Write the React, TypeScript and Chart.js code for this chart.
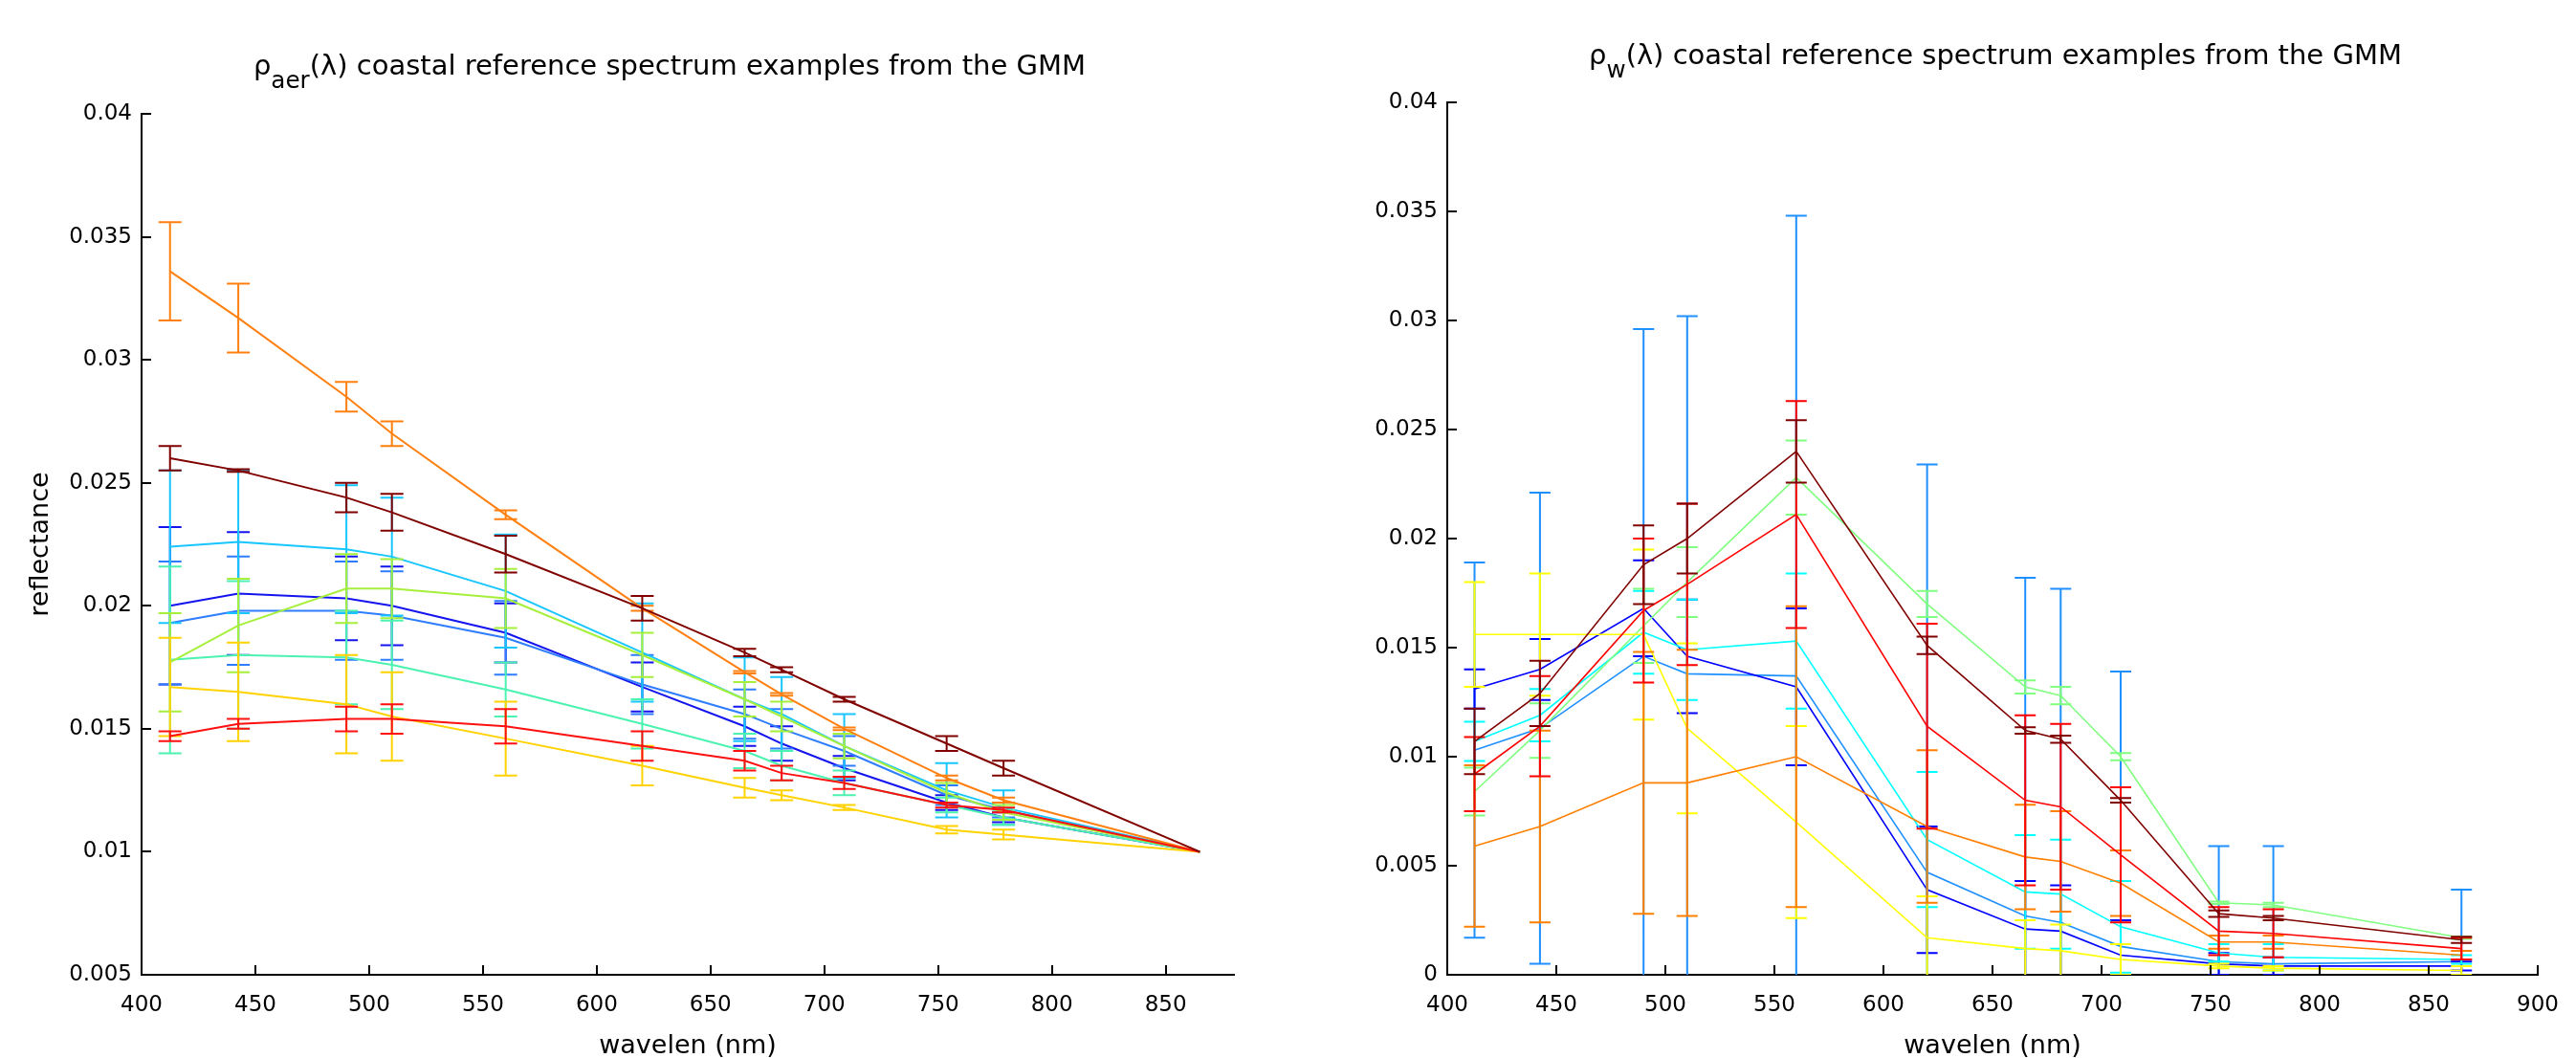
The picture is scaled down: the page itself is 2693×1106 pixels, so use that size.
import React, { useEffect, useRef } from 'react';
import { Chart, registerables } from 'chart.js';

Chart.register(...registerables);

// ---------- data ----------
const WAVELENGTHS = [412.5, 442.5, 490, 510, 560, 620, 665, 681.25, 708.75, 753.75, 778.75, 865];

// left panel: rho_aer spectra (mean) and +/- error
const AER_BLUE = [0.0200, 0.0205, 0.0203, 0.0200, 0.0189, 0.0167, 0.0151, 0.0144, 0.0134, 0.0120, 0.0114, 0.0100];
const AER_BLUE_ERR = [0.0032, 0.0025, 0.0017, 0.0016, 0.0012, 0.0010, 0.0008, 0.0007, 0.0005, 0.0003, 0.0002, 0];
const AER_AZURE = [0.0193, 0.0198, 0.0198, 0.0196, 0.0187, 0.0168, 0.0156, 0.0150, 0.0141, 0.0123, 0.0117, 0.0100];
const AER_AZURE_ERR = [0.0025, 0.0022, 0.0020, 0.0018, 0.0015, 0.0012, 0.0010, 0.0008, 0.0006, 0.0004, 0.0003, 0];
const AER_SKY = [0.0224, 0.0226, 0.0223, 0.0220, 0.0206, 0.0181, 0.0162, 0.0156, 0.0143, 0.0125, 0.0118, 0.0100];
const AER_SKY_ERR = [0.0031, 0.0029, 0.0026, 0.0024, 0.0023, 0.0020, 0.0017, 0.0015, 0.0013, 0.0011, 0.0007, 0];
const AER_AQUA = [0.0178, 0.0180, 0.0179, 0.0176, 0.0166, 0.0152, 0.0141, 0.0135, 0.0128, 0.0119, 0.0114, 0.0100];
const AER_AQUA_ERR = [0.0038, 0.0030, 0.0019, 0.0018, 0.0011, 0.0010, 0.0007, 0.0006, 0.0005, 0.0003, 0.0003, 0];
const AER_LIME = [0.0177, 0.0192, 0.0207, 0.0207, 0.0203, 0.0180, 0.0162, 0.0155, 0.0143, 0.0124, 0.0116, 0.0100];
const AER_LIME_ERR = [0.0020, 0.0019, 0.0014, 0.0012, 0.0012, 0.0009, 0.0007, 0.0006, 0.0005, 0.0004, 0.0003, 0];
const AER_GOLD = [0.0167, 0.0165, 0.0160, 0.0155, 0.0146, 0.0135, 0.0126, 0.0123, 0.0118, 0.0109, 0.0107, 0.0100];
const AER_GOLD_ERR = [0.0020, 0.0020, 0.0020, 0.0018, 0.0015, 0.0008, 0.0004, 0.0002, 0.0001, 0.00015, 0.0002, 0];
const AER_ORANGE = [0.0336, 0.0317, 0.0285, 0.0270, 0.0237, 0.0199, 0.0173, 0.0164, 0.0150, 0.0130, 0.0121, 0.0100];
const AER_ORANGE_ERR = [0.0020, 0.0014, 0.0006, 0.0005, 0.00018, 0.0001, 0.00005, 0.00005, 0.00005, 0.0001, 0.0001, 0];
const AER_RED = [0.0147, 0.0152, 0.0154, 0.0154, 0.0151, 0.0143, 0.0137, 0.0132, 0.0128, 0.0119, 0.0117, 0.0100];
const AER_RED_ERR = [0.0002, 0.0002, 0.0005, 0.0006, 0.0007, 0.0006, 0.0004, 0.0003, 0.00025, 0.0001, 0.0001, 0];
const AER_BROWN = [0.0260, 0.0255, 0.0244, 0.0238, 0.0221, 0.0199, 0.0181, 0.0174, 0.0162, 0.0144, 0.0134, 0.0100];
const AER_BROWN_ERR = [0.0005, 0.00005, 0.0006, 0.00075, 0.00075, 0.0005, 0.00015, 0.0001, 0.0001, 0.0003, 0.0003, 0];

// right panel: rho_w spectra (mean) and +/- error
const W_BLUE = [0.0131, 0.0140, 0.0168, 0.0146, 0.0132, 0.0039, 0.0021, 0.0020, 0.0009, 0.0005, 0.0004, 0.0004];
const W_BLUE_ERR = [0.0009, 0.0014, 0.0022, 0.0026, 0.0036, 0.0029, 0.0022, 0.0021, 0.0016, 0.0005, 0.0004, 0.0002];
const W_DODGER = [0.0103, 0.0113, 0.0146, 0.0138, 0.0137, 0.0047, 0.0027, 0.0024, 0.0013, 0.0006, 0.0005, 0.0006];
const W_DODGER_ERR = [0.0086, 0.0108, 0.0150, 0.0164, 0.0211, 0.0187, 0.0155, 0.0153, 0.0126, 0.0053, 0.0054, 0.0033];
const W_CYAN = [0.0107, 0.0119, 0.0157, 0.0149, 0.0153, 0.0062, 0.0038, 0.0037, 0.0022, 0.0010, 0.0008, 0.0007];
const W_CYAN_ERR = [0.0009, 0.0012, 0.0019, 0.0023, 0.0031, 0.0031, 0.0026, 0.0025, 0.0021, 0.0004, 0.0006, 0.0002];
const W_GREEN = [0.0084, 0.0112, 0.0160, 0.0180, 0.0228, 0.0170, 0.0132, 0.0128, 0.0100, 0.0033, 0.0032, 0.0017];
const W_GREEN_ERR = [0.0011, 0.00125, 0.0017, 0.0016, 0.0017, 0.0006, 0.0003, 0.0004, 0.00016, 0.00005, 0.0001, 0.00005];
const W_YELLOW = [0.0156, 0.0156, 0.0156, 0.0113, 0.0070, 0.0017, 0.0012, 0.0011, 0.0007, 0.0004, 0.0003, 0.0002];
const W_YELLOW_ERR = [0.0024, 0.0028, 0.0039, 0.0039, 0.0044, 0.0019, 0.0013, 0.0012, 0.0007, 0.0001, 0.0001, 0.0002];
const W_ORANGE = [0.0059, 0.0068, 0.0088, 0.0088, 0.0100, 0.0068, 0.0054, 0.0052, 0.0042, 0.0015, 0.0015, 0.0009];
const W_ORANGE_ERR = [0.0037, 0.0044, 0.0060, 0.0061, 0.0069, 0.0035, 0.0024, 0.0023, 0.0015, 0.0003, 0.0003, 0.0002];
const W_RED = [0.0092, 0.0114, 0.0167, 0.0179, 0.0211, 0.0114, 0.0080, 0.0077, 0.0055, 0.0020, 0.0019, 0.0012];
const W_RED_ERR = [0.0017, 0.0023, 0.0033, 0.0037, 0.0052, 0.0047, 0.0039, 0.0038, 0.0031, 0.0011, 0.0011, 0.0005];
const W_BROWN = [0.0107, 0.0129, 0.0188, 0.0200, 0.0240, 0.0151, 0.0112, 0.0108, 0.0080, 0.0028, 0.0026, 0.0016];
const W_BROWN_ERR = [0.0015, 0.0015, 0.0018, 0.0016, 0.00143, 0.0004, 0.00015, 0.00016, 0.0001, 0.00015, 0.0001, 0.00014];

// ticks
const X_TICKS_LEFT = [400, 450, 500, 550, 600, 650, 700, 750, 800, 850];
const X_TICKS_RIGHT = [400, 450, 500, 550, 600, 650, 700, 750, 800, 850, 900];
const Y_TICKS_LEFT = [0.005, 0.01, 0.015, 0.02, 0.025, 0.03, 0.035, 0.04];
const Y_TICKS_RIGHT = [0, 0.005, 0.01, 0.015, 0.02, 0.025, 0.03, 0.035, 0.04];

type Series = { color: string; values: number[]; errors: number[] };

// drawing order (later = on top)
const AER_SERIES: Series[] = [
  { color: '#1414EE', values: AER_BLUE, errors: AER_BLUE_ERR },
  { color: '#2E7DFF', values: AER_AZURE, errors: AER_AZURE_ERR },
  { color: '#18C6FF', values: AER_SKY, errors: AER_SKY_ERR },
  { color: '#4CF2B0', values: AER_AQUA, errors: AER_AQUA_ERR },
  { color: '#A6F03C', values: AER_LIME, errors: AER_LIME_ERR },
  { color: '#FFD200', values: AER_GOLD, errors: AER_GOLD_ERR },
  { color: '#FF8010', values: AER_ORANGE, errors: AER_ORANGE_ERR },
  { color: '#FF1010', values: AER_RED, errors: AER_RED_ERR },
  { color: '#800000', values: AER_BROWN, errors: AER_BROWN_ERR },
];

const W_SERIES: Series[] = [
  { color: '#1E90FF', values: W_DODGER, errors: W_DODGER_ERR },
  { color: '#0000FF', values: W_BLUE, errors: W_BLUE_ERR },
  { color: '#00FFFF', values: W_CYAN, errors: W_CYAN_ERR },
  { color: '#80FF80', values: W_GREEN, errors: W_GREEN_ERR },
  { color: '#FFFF00', values: W_YELLOW, errors: W_YELLOW_ERR },
  { color: '#FF8000', values: W_ORANGE, errors: W_ORANGE_ERR },
  { color: '#FF0000', values: W_RED, errors: W_RED_ERR },
  { color: '#800000', values: W_BROWN, errors: W_BROWN_ERR },
];

const FONT = "'DejaVu Sans', 'Liberation Sans', sans-serif";

const fmt = (v: number) => {
  const s = Number(v).toFixed(3).replace(/0+$/, '').replace(/\.$/, '');
  return s;
};

const errorBarPlugin = {
  id: 'errorBars',
  afterDatasetDraw(chart: any, args: any, opts: any) {
    const ds = chart.data.datasets[args.index];
    const errs: number[] = ds.errors;
    if (!errs) return;
    const { ctx, chartArea, scales } = chart;
    const xs = scales.x;
    const ys = scales.y;
    const cap = opts.capHalf ?? 11;
    ctx.save();
    ctx.beginPath();
    ctx.rect(chartArea.left, chartArea.top, chartArea.right - chartArea.left, chartArea.bottom - chartArea.top);
    ctx.clip();
    ctx.strokeStyle = ds.borderColor;
    ctx.lineWidth = opts.lineWidth ?? 2;
    ctx.beginPath();
    ds.data.forEach((p: any, i: number) => {
      const e = errs[i];
      if (!e) return;
      const px = xs.getPixelForValue(p.x);
      const top = ys.getPixelForValue(p.y + e);
      const bot = ys.getPixelForValue(p.y - e);
      ctx.moveTo(px, top);
      ctx.lineTo(px, bot);
      ctx.moveTo(px - cap, top);
      ctx.lineTo(px + cap, top);
      ctx.moveTo(px - cap, bot);
      ctx.lineTo(px + cap, bot);
    });
    ctx.stroke();
    ctx.restore();
  },
};

const inwardTicksPlugin = {
  id: 'inwardTicks',
  afterDraw(chart: any, _args: any, opts: any) {
    const { ctx, chartArea, scales } = chart;
    const len = opts.length ?? 10;
    ctx.save();
    ctx.strokeStyle = '#000';
    ctx.lineWidth = 2;
    ctx.beginPath();
    scales.x.ticks.forEach((t: any) => {
      const px = Math.round(scales.x.getPixelForValue(t.value));
      ctx.moveTo(px, chartArea.bottom);
      ctx.lineTo(px, chartArea.bottom - len);
    });
    scales.y.ticks.forEach((t: any) => {
      const py = Math.round(scales.y.getPixelForValue(t.value));
      ctx.moveTo(chartArea.left, py);
      ctx.lineTo(chartArea.left + len, py);
    });
    ctx.stroke();
    ctx.restore();
  },
};

interface PanelProps {
  series: Series[];
  xMax: number;
  yMin: number;
  yMax: number;
  xTicks: number[];
  yTicks: number[];
  yTitle?: string;
  area: { left: number; top: number; right: number; bottom: number };
  left: number;
  width: number;
  height: number;
  lineWidth: number;
  capHalf: number;
}

function Panel(props: PanelProps) {
  const ref = useRef<HTMLCanvasElement>(null);
  useEffect(() => {
    const canvas = ref.current;
    if (!canvas) return;
    const { area, width, height } = props;
    const yTitleSpace = props.yTitle ? 23 : 0;
    const datasets = [...props.series].reverse().map((s) => ({
      data: WAVELENGTHS.map((w, i) => ({ x: w, y: s.values[i] })),
      errors: s.errors,
      borderColor: s.color,
      backgroundColor: s.color,
      borderWidth: props.lineWidth,
      pointRadius: 0,
      pointHoverRadius: 0,
      tension: 0,
      fill: false,
    }));
    const chart = new Chart(canvas, {
      type: 'line',
      data: { datasets } as any,
      options: {
        responsive: false,
        animation: false,
        devicePixelRatio: 1,
        events: [],
        layout: { padding: { left: yTitleSpace, right: width - area.right, top: area.top, bottom: 0 } },
        plugins: {
          legend: { display: false },
          tooltip: { enabled: false },
          title: { display: false },
          errorBars: { lineWidth: 2, capHalf: props.capHalf },
          inwardTicks: { length: 10 },
        } as any,
        scales: {
          x: {
            type: 'linear',
            position: 'bottom',
            min: 400,
            max: props.xMax,
            afterBuildTicks: (s: any) => {
              s.ticks = props.xTicks.map((v) => ({ value: v }));
            },
            afterFit: (s: any) => {
              s.height = height - area.bottom;
            },
            grid: { display: false, drawTicks: false },
            border: { display: true, color: '#000', width: 2 },
            ticks: {
              autoSkip: false,
              maxRotation: 0,
              padding: 18,
              color: '#000',
              font: { family: FONT, size: 23 },
              callback: (v: any) => String(v),
            },
            title: {
              display: true,
              text: 'wavelen (nm)',
              color: '#000',
              font: { family: FONT, size: 27 },
              padding: { top: 0, bottom: -4 },
            },
          },
          y: {
            type: 'linear',
            position: 'left',
            min: props.yMin,
            max: props.yMax,
            afterBuildTicks: (s: any) => {
              s.ticks = props.yTicks.map((v) => ({ value: v }));
            },
            afterFit: (s: any) => {
              s.width = area.left - yTitleSpace;
            },
            grid: { display: false, drawTicks: false },
            border: { display: true, color: '#000', width: 2 },
            ticks: {
              autoSkip: false,
              padding: 10,
              color: '#000',
              font: { family: FONT, size: 23 },
              callback: (v: any) => fmt(v),
            },
            title: {
              display: !!props.yTitle,
              text: props.yTitle || '',
              color: '#000',
              font: { family: FONT, size: 27 },
              padding: { top: 4, bottom: 4 },
            },
          },
        },
      } as any,
      plugins: [errorBarPlugin, inwardTicksPlugin],
    });
    return () => chart.destroy();
  }, []);
  return (
    <canvas
      ref={ref}
      width={props.width}
      height={props.height}
      style={{ position: 'absolute', left: props.left, top: 0, width: props.width, height: props.height }}
    />
  );
}

const titleStyle: React.CSSProperties = {
  position: 'absolute',
  transform: 'translateX(-50%)',
  whiteSpace: 'nowrap',
  fontFamily: FONT,
  fontSize: 29,
  lineHeight: '29px',
  color: '#000',
};

const subStyle: React.CSSProperties = { fontSize: '0.85em', verticalAlign: '-0.55em', lineHeight: 0 };

export default function App() {
  return (
    <div style={{ position: 'absolute', left: 0, top: 0, width: 2693, height: 1106, background: '#fff', overflow: 'hidden' }}>
      <Panel
        series={AER_SERIES}
        xMax={880}
        yMin={0.005}
        yMax={0.04}
        xTicks={X_TICKS_LEFT}
        yTicks={Y_TICKS_LEFT}
        yTitle="reflectance"
        area={{ left: 148, top: 119, right: 1290, bottom: 1019 }}
        left={0}
        width={1346}
        height={1106}
        lineWidth={2}
        capHalf={12}
      />
      <Panel
        series={W_SERIES}
        xMax={900}
        yMin={0}
        yMax={0.04}
        xTicks={X_TICKS_RIGHT}
        yTicks={Y_TICKS_RIGHT}
        area={{ left: 167, top: 107, right: 1314, bottom: 1019 }}
        left={1346}
        width={1347}
        height={1106}
        lineWidth={1.6}
        capHalf={11}
      />
      <div style={{ ...titleStyle, left: 700, top: 54 }}>
        ρ<sub style={subStyle}>aer</sub>(λ) coastal reference spectrum examples from the GMM
      </div>
      <div style={{ ...titleStyle, left: 2086, top: 43 }}>
        ρ<sub style={subStyle}>w</sub>(λ) coastal reference spectrum examples from the GMM
      </div>
    </div>
  );
}
